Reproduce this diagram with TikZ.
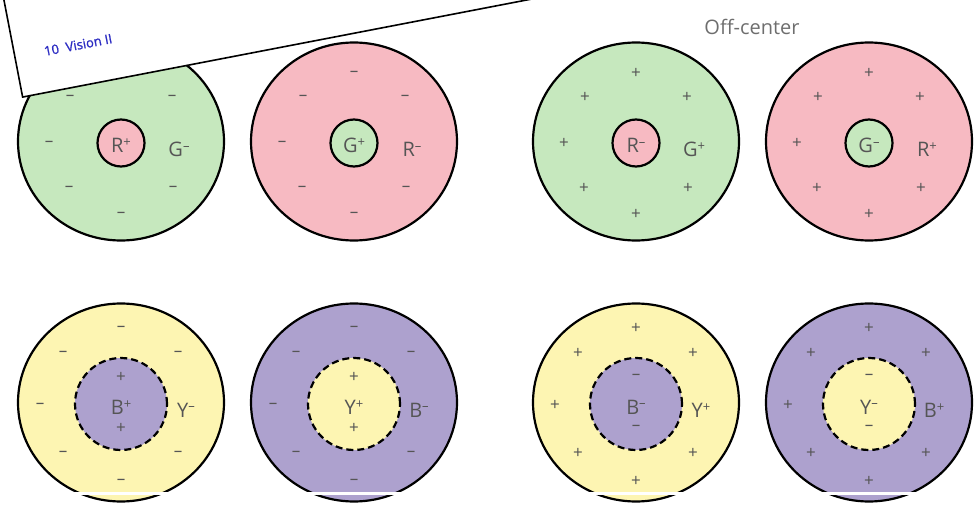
\documentclass[tikz,border=0pt]{standalone}
\usepackage{fontspec}
\setmainfont{Open Sans}
\newfontface\pagefont[FakeBold=1.2]{Open Sans}
\definecolor{rfgreen}{RGB}{198,232,190}
\definecolor{rfpink}{RGB}{247,186,194}
\definecolor{rfyellow}{RGB}{253,245,178}
\definecolor{rfpurple}{RGB}{173,161,206}
\definecolor{rfgray}{RGB}{85,85,85}
\definecolor{pageblue}{RGB}{45,45,195}
\newcommand{\upplus}{\raisebox{0.3em}{\fontsize{13}{13}\selectfont +}}
\newcommand{\upminus}{\raisebox{0.33em}{\fontsize{13}{13}\selectfont –}}
\usetikzlibrary{shapes.geometric}

\begin{document}
\begin{tikzpicture}[x=1pt, y=-1pt,
  font=\fontsize{20}{24}\selectfont, text=rfgray,
  rf/.style={ellipse, draw, line width=2.2pt, minimum width=206pt,
             minimum height=198pt, inner sep=0pt},
  ctr/.style={circle, draw, line width=2.2pt, minimum size=47pt, inner sep=0pt},
  ctrd/.style={ctr, dash pattern=on 7pt off 4pt, minimum size=92pt},
  lab/.style={anchor=base, inner sep=0pt},
  sg/.style={font=\fontsize{17}{17}\selectfont, inner sep=0pt}]
\useasboundingbox (0,0) rectangle (975,505);
\begin{scope}
\clip (0,0) rectangle (975,505);
% red/green cells
\foreach \k/\cx/\co/\ci/\il/\ol/\rs in {
  1/121/rfgreen/rfpink/R\upplus/G\upminus/–,
  2/354/rfpink/rfgreen/G\upplus/R\upminus/–,
  3/636/rfgreen/rfpink/R\upminus/G\upplus/+,
  4/869/rfpink/rfgreen/G\upminus/R\upplus/+}{
  \node[rf, fill=\co] (c\k) at (\cx,141.5) {};
  \node[ctr, fill=\ci] (c\k-in) at (\cx,143) {};
  \node[lab] (c\k-a) at (\cx,153) {\il};
  \node[lab] (c\k-b) at (\cx+58,157) {\ol};
  \foreach \n/\dx/\dy in {1/0/-68, 2/-51/-44, 3/51/-44, 4/-72/2, 5/-52/47, 6/52/47, 7/0/73}
    \node[sg] (c\k-s\n) at ([shift={(\dx,\dy)}]c\k) {\rs};
}
% blue/yellow cells
\foreach \k/\cx/\co/\ci/\il/\ol/\rs/\is in {
  5/121/rfyellow/rfpurple/B\upplus/Y\upminus/–/+,
  6/354/rfpurple/rfyellow/Y\upplus/B\upminus/–/+,
  7/636/rfyellow/rfpurple/B\upminus/Y\upplus/+/–,
  8/869/rfpurple/rfyellow/Y\upminus/B\upplus/+/–}{
  \node[rf, fill=\co] (c\k) at (\cx,402.5) {};
  \node[ctrd, fill=\ci] (c\k-in) at (\cx,404) {};
  \node[lab] (c\k-a) at (\cx,414) {\il};
  \node[lab] (c\k-b) at (\cx+65,417) {\ol};
  \node[sg] (c\k-t) at ([yshift=-24pt]c\k-in) {\is};
  \node[sg] (c\k-u) at ([yshift=27pt]c\k-in) {\is};
  \foreach \n/\dx/\dy in {1/0/-74, 2/-58/-49, 3/57/-49, 4/-81/3, 5/-58/51, 6/57/51, 7/0/79}
    \node[sg] (c\k-s\n) at ([shift={(\dx,\dy)}]c\k) {\rs};
}
\fill[white] (0,491.5) rectangle (975,494.5);
% page lying over the figure
\node[rotate=10.9, draw, fill=white, line width=1.6pt, anchor=south west,
      minimum width=800pt, minimum height=200pt] (page) at (22,98) {};
\node[rotate=10.9, anchor=base west, inner sep=0pt, text=pageblue,
      font=\pagefont\fontsize{13}{15}\selectfont] (pagenum) at (45,56) {10\hspace{7pt}Vision II};
\end{scope}
\node[anchor=base, inner sep=0pt, text=rfgray!85, font=\fontsize{20}{24}\selectfont]
  (offc) at (752,35) {Off-center};
\end{tikzpicture}
\end{document}
